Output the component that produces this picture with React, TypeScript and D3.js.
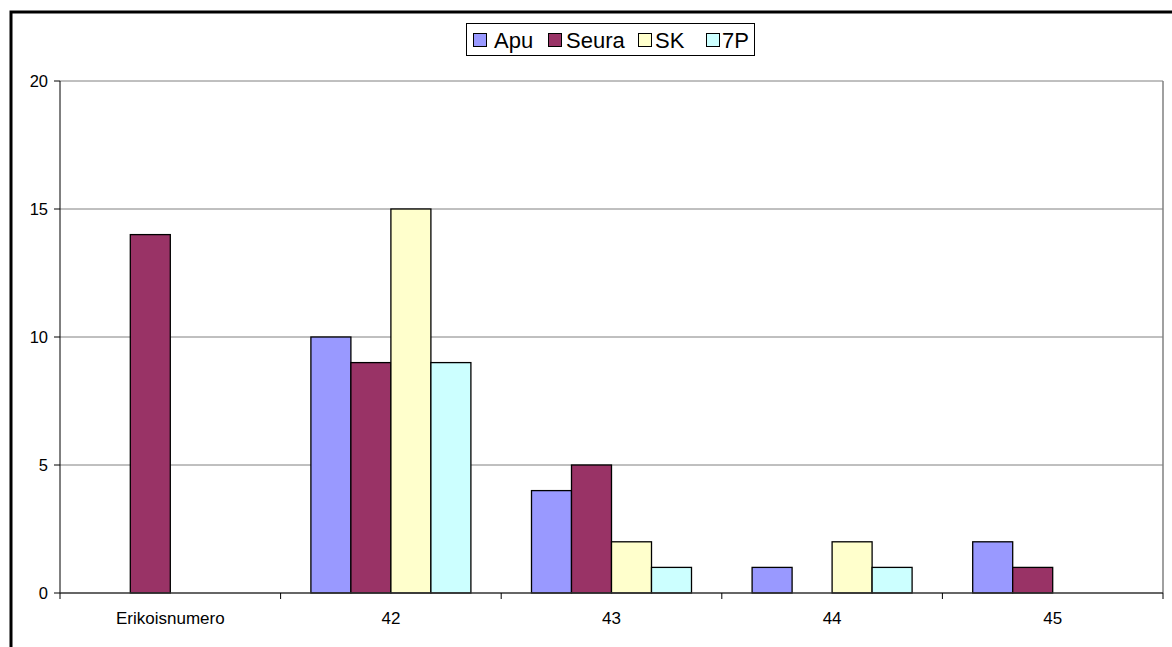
import * as React from "react";
import * as d3 from "d3";

const categories = ["Erikoisnumero", "42", "43", "44", "45"];
const seriesNames = ["Apu", "Seura", "SK", "7P"];
const seriesColors = ["#9999FF", "#993366", "#FFFFCC", "#CCFFFF"];
const apu = [0, 10, 4, 1, 2];
const seura = [14, 9, 5, 0, 1];
const sk = [0, 15, 2, 2, 0];
const sevenP = [0, 9, 1, 1, 0];
const yTicks = [0, 5, 10, 15, 20];

const W = 1172;
const H = 647;
const font = "'Liberation Sans', Arial, sans-serif";

export default function App() {
    const series = [apu, seura, sk, sevenP];
    const left = 60, right = 1163, top = 81, bottom = 593;

    const x = d3.scaleBand().domain(categories).range([left, right]).padding(0);
    const y = d3.scaleLinear().domain([0, 20]).range([bottom, top]);

    // 4 bars of 40px centred in each category
    const barW = 40;
    const groupOffset = (x.bandwidth() - barW * seriesNames.length) / 2;

    const bars: React.ReactNode[] = [];
    categories.forEach((c, ci) => {
        series.forEach((vals, si) => {
            const v = vals[ci];
            if (!v) return;
            const bx = (x(c) || 0) + groupOffset + si * barW;
            bars.push(
                <rect key={`${ci}-${si}`} x={bx} y={y(v)} width={barW} height={y(0) - y(v)}
                    fill={seriesColors[si]} stroke="#000" strokeWidth={1.3} />
            );
        });
    });

    const boundaries = [left, ...categories.map(c => (x(c) || 0) + x.bandwidth())];

    const legendX = [473, 548, 638, 706];
    const legendTextX = [494, 566, 655, 722];

    return <svg width={W} height={H} style={{ position: "absolute", left: 0, top: 0 }}>
        <rect x={0} y={0} width={W} height={H} fill="#fff" />
        <rect x={11} y={12} width={W + 20} height={H + 20} fill="none" stroke="#000" strokeWidth={3} />

        {yTicks.filter(t => t > 0).map(t =>
            <line key={t} x1={left} x2={right} y1={y(t)} y2={y(t)} stroke="#808080" strokeWidth={1} />
        )}
        <line x1={right} x2={right} y1={top} y2={bottom} stroke="#808080" strokeWidth={1.5} />

        {bars}

        <line x1={left} x2={left} y1={top} y2={bottom} stroke="#000" strokeWidth={1} />
        <line x1={left} x2={right} y1={bottom} y2={bottom} stroke="#333" strokeWidth={1.5} />
        {yTicks.map(t =>
            <g key={t}>
                <line x1={left - 6} x2={left} y1={y(t)} y2={y(t)} stroke="#000" />
                <text x={48} y={y(t) + 6} textAnchor="end" fontFamily={font} fontSize={16.5}>{t}</text>
            </g>
        )}
        {boundaries.map((b, i) =>
            <line key={i} x1={b} x2={b} y1={bottom} y2={bottom + 6} stroke="#000" />
        )}
        {categories.map(c =>
            <text key={c} x={(x(c) || 0) + x.bandwidth() / 2} y={624} textAnchor="middle" fontFamily={font} fontSize={17}>{c}</text>
        )}

        <rect x={466.5} y={23.5} width={288} height={32} fill="#fff" stroke="#000" strokeWidth={1} />
        {seriesNames.map((s, i) =>
            <g key={s}>
                <rect x={legendX[i] + 0.5} y={33.5} width={13} height={13} fill={seriesColors[i]} stroke="#000" strokeWidth={1} />
                <text x={legendTextX[i]} y={48} fontFamily={font} fontSize={22}>{s}</text>
            </g>
        )}
    </svg>;
}
